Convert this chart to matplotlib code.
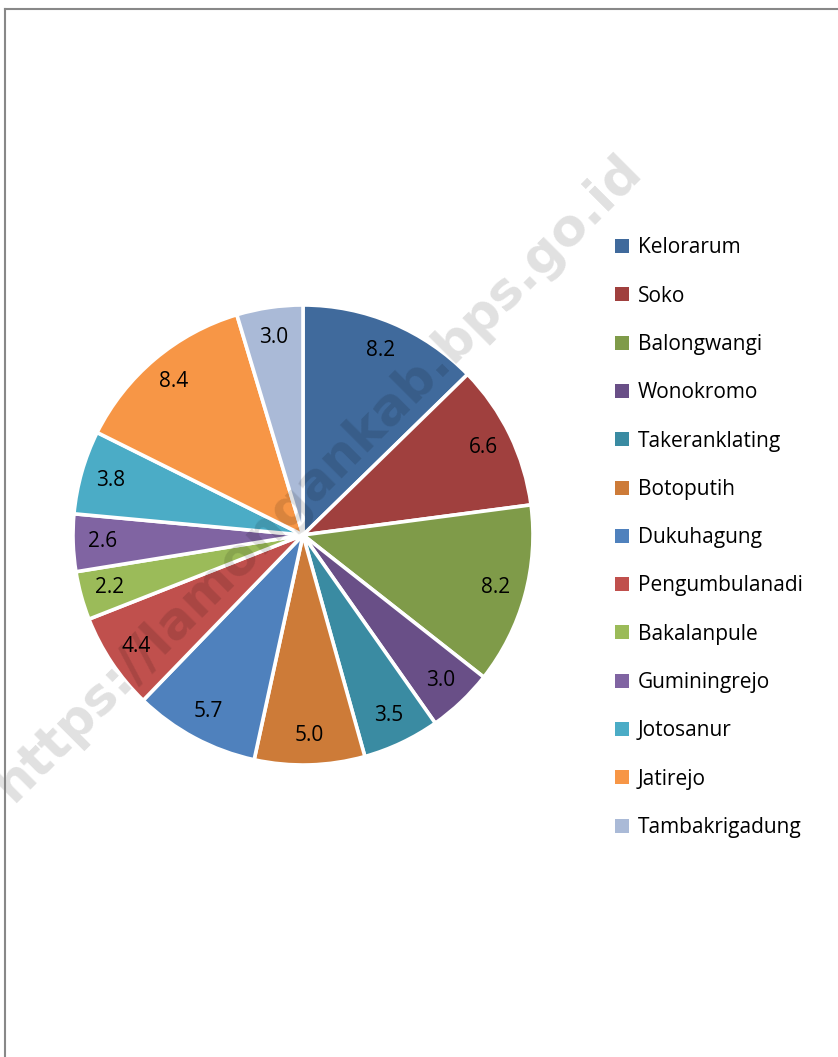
import matplotlib
matplotlib.use("Agg")
import matplotlib.pyplot as plt
from matplotlib.lines import Line2D
from matplotlib.patches import Patch

names = ["Kelorarum", "Soko", "Balongwangi", "Wonokromo", "Takeranklating",
         "Botoputih", "Dukuhagung", "Pengumbulanadi", "Bakalanpule",
         "Guminingrejo", "Jotosanur", "Jatirejo", "Tambakrigadung"]
values = [8.2, 6.6, 8.2, 3.0, 3.5, 5.0, 5.7, 4.4, 2.2, 2.6, 3.8, 8.4, 3.0]
colors = ["#406A9C", "#A0403E", "#7F9B49", "#694F87", "#3A8BA2", "#CD7B38",
          "#4F81BD", "#C0504D", "#9BBB59", "#8064A2", "#4BACC6", "#F79646",
          "#AABAD7"]

plt.rcParams['font.family'] = ['Open Sans', 'DejaVu Sans']

W, H = 838, 1057
fig = plt.figure(figsize=(W / 100, H / 100), dpi=100)

# pie box: center (303, 535), radius 230 px
cx, cy, r = 303, 535, 230
ax = fig.add_axes([(cx - r) / W, (H - cy - r) / H, 2 * r / W, 2 * r / H])
wedges, texts = ax.pie(values, labels=[f"{v:.1f}" for v in values],
                       colors=colors, startangle=90, counterclock=False,
                       labeldistance=0.87,
                       wedgeprops=dict(edgecolor="white", linewidth=2.6),
                       textprops=dict(fontsize=15, color="black"))
for t in texts:
    t.set_ha("center")
    t.set_va("center")
ax.set_xlim(-1, 1)
ax.set_ylim(-1, 1)
ax.set_aspect("equal")

handles = [Patch(facecolor=c, edgecolor="none") for c in colors]
fig.legend(handles, names, loc="upper left", bbox_to_anchor=(605 / W, 1 - 227 / H),
           frameon=False, fontsize=15, handlelength=0.65, handleheight=0.65,
           handletextpad=0.42, labelspacing=1.31, borderpad=0)

# watermark
fig.text(318 / W, 1 - 478 / H, "https://lamongankab.bps.go.id", rotation=45,
         ha="center", va="center", fontsize=37, fontweight="bold",
         color="black", alpha=0.12, family="DejaVu Sans", zorder=10)

# frame lines (top and left only)
fig.add_artist(Line2D([4.5 / W, 1], [1 - 9 / H, 1 - 9 / H], color="#888888", lw=1.5, zorder=11))
fig.add_artist(Line2D([4.5 / W, 4.5 / W], [0, 1 - 9 / H], color="#888888", lw=1.5, zorder=11))

fig.savefig("out.png", dpi=100)
